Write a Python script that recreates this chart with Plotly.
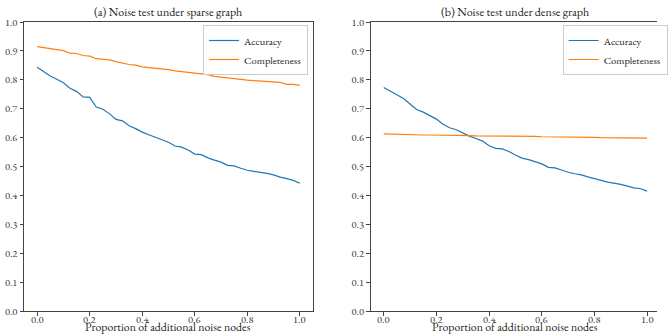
import plotly.graph_objects as go

x_vals = [i / 40 for i in range(41)]

sparse_accuracy = [0.843, 0.828, 0.813, 0.802, 0.790, 0.771, 0.760, 0.741, 0.739, 0.706,
                   0.698, 0.683, 0.663, 0.658, 0.641, 0.631, 0.619, 0.610, 0.602, 0.594,
                   0.584, 0.571, 0.567, 0.557, 0.543, 0.541, 0.530, 0.522, 0.515, 0.504,
                   0.502, 0.494, 0.487, 0.483, 0.480, 0.476, 0.471, 0.463, 0.458, 0.452,
                   0.442]
sparse_completeness = [0.915, 0.912, 0.908, 0.904, 0.901, 0.892, 0.891, 0.884, 0.882, 0.873,
                       0.871, 0.869, 0.863, 0.857, 0.853, 0.851, 0.845, 0.842, 0.840, 0.839,
                       0.835, 0.831, 0.828, 0.825, 0.822, 0.819, 0.818, 0.812, 0.809, 0.806,
                       0.804, 0.802, 0.799, 0.797, 0.796, 0.794, 0.792, 0.791, 0.784, 0.784,
                       0.781]
dense_accuracy = [0.773, 0.760, 0.745, 0.735, 0.716, 0.697, 0.688, 0.677, 0.664, 0.646,
                  0.634, 0.627, 0.615, 0.605, 0.597, 0.588, 0.572, 0.563, 0.561, 0.552,
                  0.540, 0.529, 0.524, 0.517, 0.509, 0.497, 0.495, 0.488, 0.480, 0.475,
                  0.471, 0.464, 0.459, 0.452, 0.446, 0.443, 0.438, 0.432, 0.426, 0.423,
                  0.415]
dense_completeness = [0.613, 0.612, 0.611, 0.611, 0.611, 0.610, 0.609, 0.609, 0.609, 0.608,
                      0.608, 0.607, 0.607, 0.607, 0.606, 0.606, 0.606, 0.605, 0.605, 0.605,
                      0.605, 0.604, 0.604, 0.604, 0.603, 0.603, 0.603, 0.602, 0.602, 0.602,
                      0.601, 0.601, 0.601, 0.600, 0.600, 0.600, 0.600, 0.599, 0.599, 0.598,
                      0.598]

titles = ["(a) Noise test under sparse graph", "(b) Noise test under dense graph"]
xlabel = "Proportion of additional noise nodes"
series_names = ["Accuracy", "Completeness"]
colors = ["#1f77b4", "#ff7f0e"]
y_ticks = [i / 10 for i in range(11)]
x_ticks = [0.0, 0.2, 0.4, 0.6, 0.8, 1.0]
x_tick_labels = ["0.0", "0.2", "0.4", "0.6", "0.8", "1.0"]

FONT = "EB Garamond, Liberation Serif, serif"
W, H = 668, 336
ML, MR, MT, MB = 24, 0, 22, 25
PW = W - ML - MR
PH = H - MT - MB

def px2dom(px):
    return (px - ML) / PW

def py2dom(py):
    return (H - MB - py) / PH

fig = go.Figure()

panels = [
    (sparse_accuracy, sparse_completeness, "x", "y", "legend"),
    (dense_accuracy, dense_completeness, "x2", "y2", "legend2"),
]
for acc, comp, xa, ya, lg in panels:
    for name, vals, col in zip(series_names, [acc, comp], colors):
        fig.add_trace(go.Scatter(x=x_vals, y=vals, mode="lines", name=name,
                                 line=dict(color=col, width=1.2),
                                 xaxis=xa, yaxis=ya, legend=lg))

tick_font = dict(family=FONT, size=10.5, color="#333")
axis_common = dict(showgrid=False, zeroline=False, showline=True, linecolor="#444",
                   linewidth=1, ticks="outside", ticklen=3.5, tickcolor="#444",
                   tickfont=tick_font)

dom1 = [px2dom(24), px2dom(318)]
dom2 = [px2dom(376.6), 1.0]
x2_right = (668 - 390) / 268
label_font = dict(family=FONT, size=11.8, color="#222")

fig.update_layout(
    width=W, height=H,
    margin=dict(l=ML, r=MR, t=MT, b=MB),
    paper_bgcolor="white", plot_bgcolor="white",
    font=dict(family=FONT, color="#222"),
    xaxis=dict(domain=dom1, range=[-0.05, 1.05], tickvals=x_ticks, showticklabels=False,
               mirror=True, anchor="y", **axis_common),
    yaxis=dict(domain=[0, 1], range=[0, 1], tickvals=y_ticks, tickformat=".1f",
               mirror=True, anchor="x", **axis_common),
    xaxis2=dict(domain=dom2, range=[-0.05, x2_right], tickvals=x_ticks, showticklabels=False,
                mirror=True, anchor="y2", **axis_common),
    yaxis2=dict(domain=[0, 1], range=[0, 1], tickvals=y_ticks, tickformat=".1f",
                mirror=False, anchor="x2", **axis_common),
    legend=dict(x=px2dom(313), y=py2dom(25), xanchor="right", yanchor="top",
                bgcolor="rgba(255,255,255,0.8)", bordercolor="#ccc", borderwidth=1,
                font=dict(family=FONT, size=10.5, color="#222"), itemwidth=30,
                tracegroupgap=0),
    legend2=dict(x=px2dom(572), y=py2dom(25), xanchor="left", yanchor="top",
                 bgcolor="rgba(255,255,255,0.8)", bordercolor="#ccc", borderwidth=1,
                 font=dict(family=FONT, size=10.5, color="#222"), itemwidth=30,
                 tracegroupgap=0),
    showlegend=True,
)

centers = [(24 + 318) / 2, (376.6 + 671.4) / 2]
for t, cx, xref in zip(titles, centers, ["x", "x2"]):
    fig.add_annotation(text=t, x=px2dom(cx), y=1, xref="paper", yref="paper",
                       xanchor="center", yanchor="bottom", yshift=0, showarrow=False,
                       font=dict(family=FONT, size=12, color="#222"))
    fig.add_annotation(text=xlabel, x=px2dom(cx), y=py2dom(336), xref="paper", yref="paper",
                       xanchor="center", yanchor="bottom", showarrow=False, font=label_font,
                       borderpad=0)
    for v, lab in zip(x_ticks, x_tick_labels):
        fig.add_annotation(text=lab, x=v, xref=xref, y=py2dom(318.5), yref="paper",
                           xanchor="center", yanchor="middle", showarrow=False,
                           font=tick_font, borderpad=0)

fig.write_html("out.html")
